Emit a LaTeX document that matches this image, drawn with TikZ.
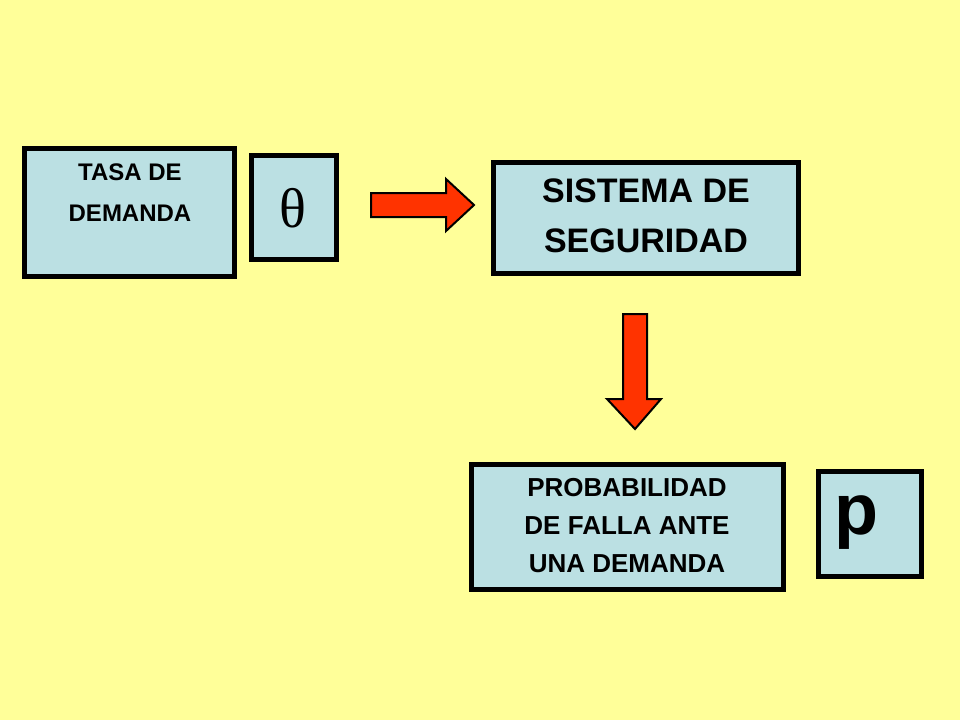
\documentclass[tikz,border=0pt]{standalone}
\usepackage{fontspec}
\setmainfont{Liberation Sans}
\newfontfamily\serifgr{Liberation Serif}
\definecolor{bg}{HTML}{FFFF99}
\definecolor{boxc}{HTML}{BBE0E3}
\definecolor{arr}{HTML}{FF3300}
\begin{document}
\begin{tikzpicture}[x=1pt,y=-1pt,
  bx/.style={draw=black,line width=5pt,fill=boxc},
  arrw/.style={draw=black,line width=2pt,fill=arr,line join=miter},
  txt/.style={font=\bfseries,align=center,inner sep=0pt}]
\fill[bg] (0,0) rectangle (960,720);
\useasboundingbox (0,0) rectangle (960,720);
% boxes
\draw[bx] (24.5,148.5) rectangle (234.5,276.5);
\node[txt,font=\bfseries\fontsize{24}{41}\selectfont] (tasa) at (130,193) {TASA DE\\DEMANDA};
\draw[bx] (251.5,155.5) rectangle (336.5,259.5);
\node[txt,font=\serifgr\fontsize{56}{56}\selectfont] (theta) at (293,208) {θ};
\draw[bx] (493.5,162.5) rectangle (798.5,273.5);
\node[txt,font=\bfseries\fontsize{34}{50}\selectfont] (sis) at (646,216) {SISTEMA DE\\SEGURIDAD};
\draw[bx] (471.5,464.5) rectangle (783.5,589.5);
\node[txt,font=\bfseries\fontsize{26}{38}\selectfont] (prob) at (627,526) {PROBABILIDAD\\DE FALLA ANTE\\UNA DEMANDA};
\draw[bx] (818.5,471.5) rectangle (921.5,576.5);
\node[txt,font=\bfseries\fontsize{72}{72}\selectfont] (p) at (856,523) {p};
% arrows
\draw[arrw] (371,193) -- (446,193) -- (446,179) -- (474,205) -- (446,231) -- (446,217) -- (371,217) -- cycle;
\draw[arrw] (623,314) -- (647,314) -- (647,399) -- (661,399) -- (635,429) -- (607,399) -- (623,399) -- cycle;
\end{tikzpicture}
\end{document}
